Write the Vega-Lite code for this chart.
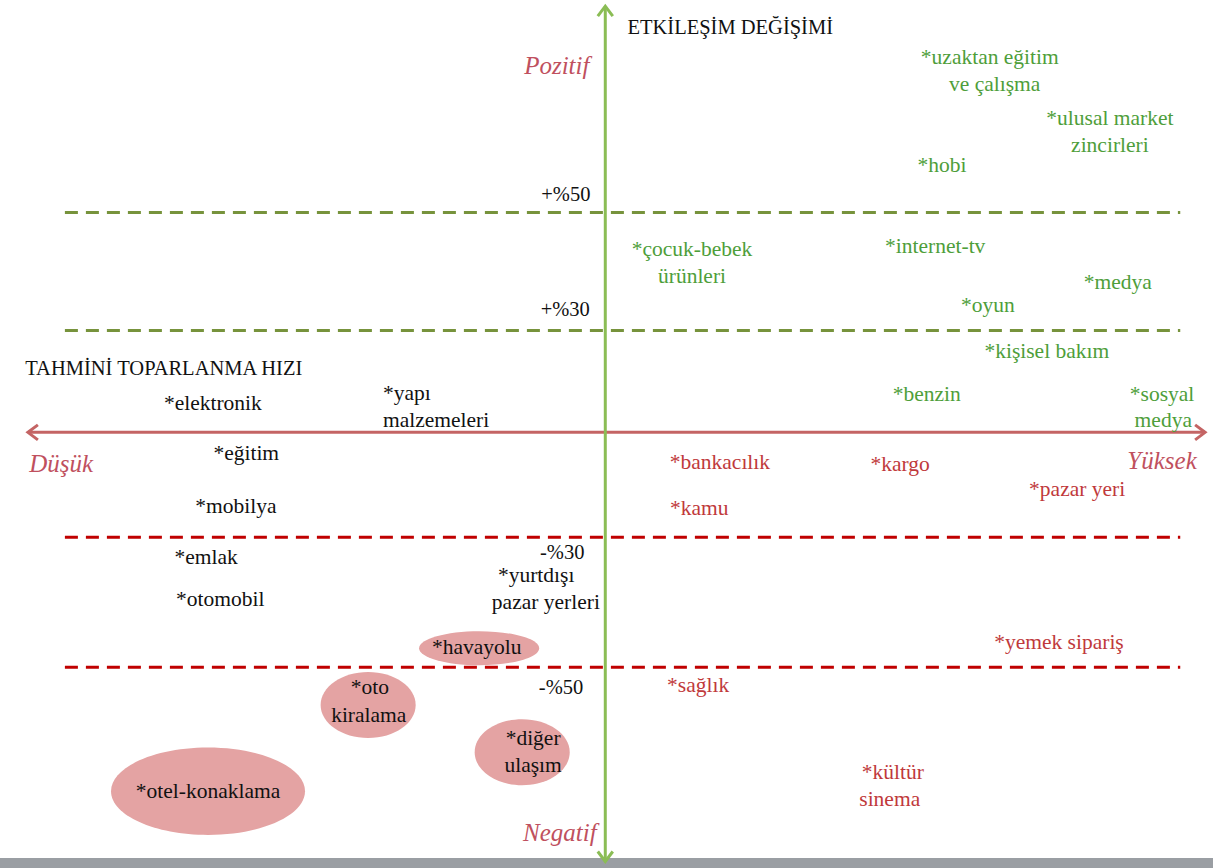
{
  "$schema": "https://vega.github.io/schema/vega-lite/v6.json",
  "width": 1213,
  "height": 868,
  "autosize": {"type": "fit", "contains": "padding"},
  "padding": 0,
  "background": "white",
  "config": {"view": {"stroke": null}},
  "resolve": {"scale": {"color": "independent", "shape": "independent"}},
  "datasets": {
    "bar": [{"x1": -100, "x2": 100, "y1": -100, "y2": -97.7}],
    "thresholds": [
      {"level": "+%50", "kind": "pos", "x1": -89.3, "x2": 94.6, "y": 51.2},
      {"level": "+%30", "kind": "pos", "x1": -89.3, "x2": 94.6, "y": 24.0},
      {"level": "-%30", "kind": "neg", "x1": -89.3, "x2": 94.6, "y": -23.7},
      {"level": "-%50", "kind": "neg", "x1": -89.3, "x2": 94.6, "y": -53.7}
    ],
    "axes": [
      {"axis": "speed", "x1": -95.4, "x2": 98.7, "y1": 0.5, "y2": 0.5},
      {"axis": "change", "x1": -0.2, "x2": -0.2, "y1": -98.5, "y2": 98.8}
    ],
    "heads": [
      {"axis": "speed", "dir": "left", "x": -95.4, "y": 0.5},
      {"axis": "speed", "dir": "right", "x": 98.7, "y": 0.5},
      {"axis": "change", "dir": "up", "x": -0.2, "y": 98.8},
      {"axis": "change", "dir": "down", "x": -0.2, "y": -98.5}
    ],
    "bubbles": [
      {"sector": "havayolu", "x": -21.0, "y": -49.3},
      {"sector": "oto kiralama", "x": -39.3, "y": -62.4},
      {"sector": "diğer ulaşım", "x": -13.9, "y": -73.3},
      {"sector": "otel-konaklama", "x": -65.7, "y": -82.3}
    ],
    "sectors": [
      {"label": "*uzaktan eğitim", "group": "pos", "x": 63.2, "y": 86.9},
      {"label": "ve çalışma", "group": "pos", "x": 64.0, "y": 80.6},
      {"label": "*ulusal market", "group": "pos", "x": 83.0, "y": 72.8},
      {"label": "zincirleri", "group": "pos", "x": 83.0, "y": 66.6},
      {"label": "*hobi", "group": "pos", "x": 55.3, "y": 62.0},
      {"label": "*çocuk-bebek", "group": "pos", "x": 14.1, "y": 42.6},
      {"label": "ürünleri", "group": "pos", "x": 14.1, "y": 36.4},
      {"label": "*internet-tv", "group": "pos", "x": 54.2, "y": 43.3},
      {"label": "*medya", "group": "pos", "x": 84.3, "y": 35.0},
      {"label": "*oyun", "group": "pos", "x": 62.9, "y": 29.7},
      {"label": "*kişisel bakım", "group": "pos", "x": 72.6, "y": 19.1},
      {"label": "*benzin", "group": "pos", "x": 52.8, "y": 9.2},
      {"label": "*sosyal", "group": "pos", "x": 91.6, "y": 9.2},
      {"label": "medya", "group": "pos", "x": 91.8, "y": 3.2},
      {"label": "*elektronik", "group": "neutral", "x": -64.9, "y": 7.1},
      {"label": "*yapı", "group": "neutral", "x": -32.9, "y": 9.4},
      {"label": "malzemeleri", "group": "neutral", "x": -28.1, "y": 3.2},
      {"label": "*eğitim", "group": "neutral", "x": -59.4, "y": -4.6},
      {"label": "*mobilya", "group": "neutral", "x": -61.1, "y": -16.8},
      {"label": "*emlak", "group": "neutral", "x": -66.0, "y": -28.6},
      {"label": "*otomobil", "group": "neutral", "x": -63.7, "y": -38.2},
      {"label": "*yurtdışı", "group": "neutral", "x": -11.6, "y": -32.6},
      {"label": "pazar yerleri", "group": "neutral", "x": -10.0, "y": -38.8},
      {"label": "*havayolu", "group": "neutral", "x": -21.4, "y": -49.3},
      {"label": "*oto", "group": "neutral", "x": -39.0, "y": -58.5},
      {"label": "kiralama", "group": "neutral", "x": -39.2, "y": -65.0},
      {"label": "*diğer", "group": "neutral", "x": -12.1, "y": -70.3},
      {"label": "ulaşım", "group": "neutral", "x": -12.1, "y": -76.5},
      {"label": "*otel-konaklama", "group": "neutral", "x": -65.7, "y": -82.5},
      {"label": "*bankacılık", "group": "neg", "x": 18.7, "y": -6.5},
      {"label": "*kamu", "group": "neg", "x": 15.3, "y": -17.1},
      {"label": "*kargo", "group": "neg", "x": 48.4, "y": -7.1},
      {"label": "*pazar yeri", "group": "neg", "x": 77.6, "y": -12.7},
      {"label": "*yemek sipariş", "group": "neg", "x": 74.6, "y": -48.2},
      {"label": "*sağlık", "group": "neg", "x": 15.1, "y": -58.1},
      {"label": "*kültür", "group": "neg", "x": 47.2, "y": -78.1},
      {"label": "sinema", "group": "neg", "x": 46.7, "y": -84.3}
    ],
    "titles": [
      {"label": "ETKİLEŞİM DEĞİŞİMİ", "x": 20.4, "y": 93.8},
      {"label": "TAHMİNİ TOPARLANMA HIZI", "x": -73.0, "y": 15.0},
      {"label": "+%50", "x": -6.7, "y": 55.3},
      {"label": "+%30", "x": -6.8, "y": 28.8},
      {"label": "-%30", "x": -7.3, "y": -27.3},
      {"label": "-%50", "x": -7.5, "y": -58.5}
    ],
    "poles": [
      {"label": "Pozitif", "x": -8.2, "y": 85.0},
      {"label": "Negatif", "x": -7.7, "y": -91.9},
      {"label": "Düşük", "x": -89.9, "y": -6.7},
      {"label": "Yüksek", "x": 91.6, "y": -6.2}
    ]
  },
  "layer": [
    {
      "data": {"name": "bar"},
      "mark": {"type": "rect", "color": "#9a9ea3"},
      "encoding": {
        "x": {"field": "x1", "type": "quantitative", "scale": {"domain": [-100, 100], "nice": false, "zero": false}, "axis": null},
        "x2": {"field": "x2"},
        "y": {"field": "y1", "type": "quantitative", "scale": {"domain": [-100, 100], "nice": false, "zero": false}, "axis": null},
        "y2": {"field": "y2"}
      }
    },
    {
      "data": {"name": "thresholds"},
      "mark": {"type": "rule", "strokeWidth": 3, "strokeDash": [13, 8]},
      "encoding": {
        "x": {"field": "x1", "type": "quantitative"},
        "x2": {"field": "x2"},
        "y": {"field": "y", "type": "quantitative"},
        "color": {"field": "kind", "type": "nominal", "scale": {"domain": ["pos", "neg"], "range": ["#77933c", "#c00000"]}, "legend": null}
      }
    },
    {
      "data": {"name": "bubbles"},
      "mark": {"type": "point", "filled": true, "opacity": 1, "size": 37636, "color": "#e4a3a3"},
      "encoding": {
        "x": {"field": "x", "type": "quantitative"},
        "y": {"field": "y", "type": "quantitative"},
        "shape": {"field": "sector", "type": "nominal", "legend": null, "scale": {
          "domain": ["havayolu", "oto kiralama", "diğer ulaşım", "otel-konaklama"],
          "range": [
            "M-0.619,0A0.619,0.175,0,1,0,0.619,0A0.619,0.175,0,1,0,-0.619,0Z",
            "M-0.49,0A0.49,0.34,0,1,0,0.49,0A0.49,0.34,0,1,0,-0.49,0Z",
            "M-0.49,0A0.49,0.34,0,1,0,0.49,0A0.49,0.34,0,1,0,-0.49,0Z",
            "M-1,0A1,0.45,0,1,0,1,0A1,0.45,0,1,0,-1,0Z"
          ]}}
      }
    },
    {
      "data": {"name": "axes"},
      "mark": {"type": "rule", "strokeWidth": 3},
      "encoding": {
        "x": {"field": "x1", "type": "quantitative"},
        "x2": {"field": "x2"},
        "y": {"field": "y1", "type": "quantitative"},
        "y2": {"field": "y2"},
        "color": {"field": "axis", "type": "nominal", "scale": {"domain": ["speed", "change"], "range": ["#c46464", "#8bbd55"]}, "legend": null}
      }
    },
    {
      "data": {"name": "heads"},
      "mark": {"type": "point", "filled": false, "strokeWidth": 3, "size": 400, "opacity": 1},
      "encoding": {
        "x": {"field": "x", "type": "quantitative"},
        "y": {"field": "y", "type": "quantitative"},
        "color": {"field": "axis", "type": "nominal", "scale": {"domain": ["speed", "change"], "range": ["#c46464", "#8bbd55"]}, "legend": null},
        "shape": {"field": "dir", "type": "nominal", "legend": null, "scale": {
          "domain": ["left", "right", "up", "down"],
          "range": ["M1,-0.75L0,0L1,0.75", "M-1,-0.75L0,0L-1,0.75", "M-0.75,1L0,0L0.75,1", "M-0.75,-1L0,0L0.75,-1"]}}
      }
    },
    {
      "data": {"name": "sectors"},
      "mark": {"type": "text", "font": "Liberation Serif, Times New Roman, serif", "fontSize": 21.5, "align": "center", "baseline": "middle"},
      "encoding": {
        "x": {"field": "x", "type": "quantitative"},
        "y": {"field": "y", "type": "quantitative"},
        "text": {"field": "label"},
        "color": {"field": "group", "type": "nominal", "legend": null, "scale": {"domain": ["pos", "neutral", "neg"], "range": ["#4e9e3a", "#111111", "#c0393b"]}}
      }
    },
    {
      "data": {"name": "titles"},
      "mark": {"type": "text", "font": "Liberation Serif, Times New Roman, serif", "fontSize": 20.5, "align": "center", "baseline": "middle", "color": "#111111"},
      "encoding": {
        "x": {"field": "x", "type": "quantitative"},
        "y": {"field": "y", "type": "quantitative"},
        "text": {"field": "label"}
      }
    },
    {
      "data": {"name": "poles"},
      "mark": {"type": "text", "font": "Liberation Serif, Times New Roman, serif", "fontSize": 25, "fontStyle": "italic", "align": "center", "baseline": "middle", "color": "#c0505e"},
      "encoding": {
        "x": {"field": "x", "type": "quantitative"},
        "y": {"field": "y", "type": "quantitative"},
        "text": {"field": "label"}
      }
    }
  ]
}
